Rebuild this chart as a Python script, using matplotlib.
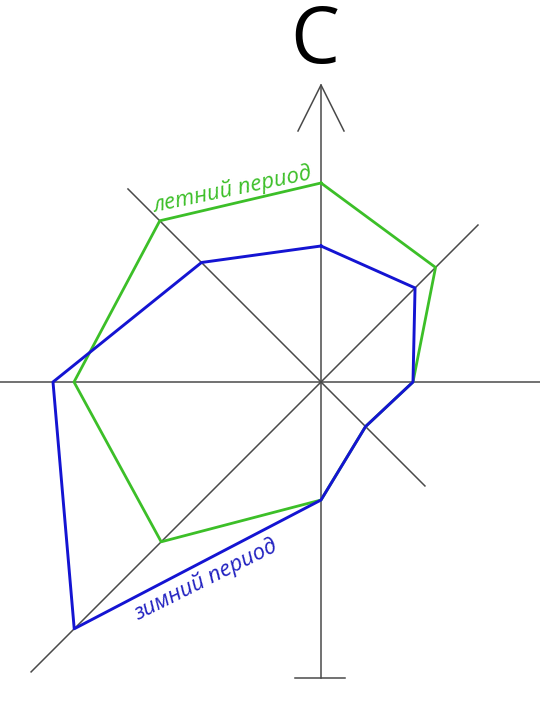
import numpy as np
import matplotlib
matplotlib.use("Agg")
import matplotlib.pyplot as plt

# rose directions, clockwise from north
directions = ["N", "NE", "E", "SE", "S", "SW", "W", "NW"]
summer = [199, 162, 92, 63, 118, 226, 247, 228]   # летний период
winter = [136, 133, 92, 63, 118, 349, 268, 169]   # зимний период

cx, cy = 321, 319
ang = np.deg2rad(90 - 45 * np.arange(len(directions)))


def to_xy(r):
    r = np.asarray(r, dtype=float)
    x = cx + r * np.cos(ang)
    y = cy + r * np.sin(ang)
    return np.append(x, x[0]), np.append(y, y[0])


def main() -> None:
    fig = plt.figure(figsize=(5.40, 7.01), dpi=100)
    ax = fig.add_axes([0, 0, 1, 1])
    ax.set_xlim(0, 540)
    ax.set_ylim(0, 701)
    ax.axis("off")

    axc = "#4a4a4a"
    lw = 1.1
    # axes of the rose
    ax.plot([cx, cx], [cy - 296, cy + 297], c=axc, lw=lw)
    ax.plot([0, 540], [cy, cy], c=axc, lw=lw)
    d = np.sqrt(0.5)
    ax.plot([cx - 410 * d, cx + 222 * d], [cy - 410 * d, cy + 222 * d], c=axc, lw=lw)
    ax.plot([cx - 273 * d, cx + 147 * d], [cy + 273 * d, cy - 147 * d], c=axc, lw=lw)
    # arrow head and bottom tick
    tip = cy + 297
    ax.plot([cx - 23, cx, cx + 23], [tip - 46, tip, tip - 46], c=axc, lw=lw)
    ax.plot([cx - 26, cx + 24], [cy - 296, cy - 296], c=axc, lw=lw)

    green = "#3cbf28"
    blue = "#1414d2"
    xs, ys = to_xy(summer)
    ax.plot(xs, ys, c=green, lw=2.0, solid_joinstyle="round")
    xw, yw = to_xy(winter)
    ax.plot(xw, yw, c=blue, lw=2.1, solid_joinstyle="round")

    ax.text(315, 701 - 43, "С", fontsize=56, family="Open Sans",
            ha="center", va="center", color="black")
    ax.text(234, 701 - 196, "летний период", fontsize=16, family="Open Sans",
            style="italic", color=green, rotation=11.8,
            rotation_mode="anchor", ha="center", va="baseline")
    ax.text(208, 701 - 585, "зимний период", fontsize=16, family="Open Sans",
            style="italic", color="#2020c0", rotation=26.5,
            rotation_mode="anchor", ha="center", va="baseline")

    fig.savefig("out.png", dpi=100)


if __name__ == "__main__":
    main()
